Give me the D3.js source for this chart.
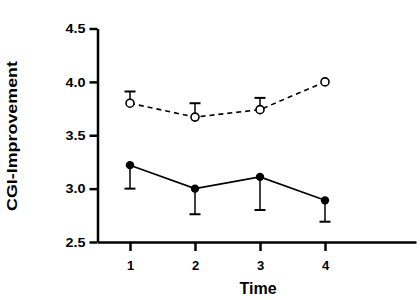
<!DOCTYPE html>
<html>
<head>
<meta charset="utf-8">
<script src="https://cdn.jsdelivr.net/npm/d3@7"></script>
<style>
  body { margin: 0; background: #fff; }
  svg { display: block; font-family: Arial, "Liberation Sans", sans-serif; }
</style>
</head>
<body>
<svg width="420" height="300"></svg>
<script>
var times = [1, 2, 3, 4]
var yTicks = [2.5, 3.0, 3.5, 4.0, 4.5]
// open circles, dashed line, error bar upward
var openMean = [3.80, 3.67, 3.74, 4.00]
var openErr = [0.11, 0.13, 0.11, 0]
// filled circles, solid line, error bar downward
var filledMean = [3.22, 3.00, 3.11, 2.89]
var filledErr = [0.22, 0.24, 0.31, 0.20]

var svg = d3.select('svg')
var x = d3.scaleLinear().domain([0.5, 5.4]).range([97.5, 416])
var y = d3.scaleLinear().domain([2.5, 4.5]).range([242, 28.5])

var openData = times.map(function(t, i) { return {t: t, m: openMean[i], e: openErr[i]} })
var filledData = times.map(function(t, i) { return {t: t, m: filledMean[i], e: filledErr[i]} })

// axes
var yAxis = svg.append('g')
  .attr('transform', 'translate(' + x.range()[0] + ',0)')
  .call(d3.axisLeft(y).tickValues(yTicks).tickFormat(d3.format('.1f')).tickSize(8).tickSizeOuter(0))
var xAxis = svg.append('g')
  .attr('transform', 'translate(0,' + y.range()[0] + ')')
  .call(d3.axisBottom(x).tickValues(times).tickFormat(d3.format('d')).tickSize(9).tickSizeOuter(0))

;[yAxis, xAxis].forEach(function(ax) {
  ax.select('.domain').attr('stroke', '#000').attr('stroke-width', 2.5)
  ax.selectAll('.tick line').attr('stroke', '#000').attr('stroke-width', 2.5)
  ax.selectAll('.tick text')
    .attr('fill', '#000')
    .attr('font-size', 13)
    .attr('font-weight', 'bold')
    .attr('font-family', 'Arial, "Liberation Sans", sans-serif')
})
yAxis.selectAll('.tick text').attr('x', -12).attr('textLength', 20).attr('lengthAdjust', 'spacingAndGlyphs')
xAxis.selectAll('.tick text').attr('y', 19)

svg.append('text')
  .attr('transform', 'translate(17,136) rotate(-90)')
  .attr('text-anchor', 'middle')
  .attr('font-size', 15.5)
  .attr('font-weight', 'bold')
  .attr('textLength', 150)
  .attr('lengthAdjust', 'spacingAndGlyphs')
  .text('CGI-Improvement')

svg.append('text')
  .attr('x', 258)
  .attr('y', 294)
  .attr('text-anchor', 'middle')
  .attr('font-size', 16)
  .attr('font-weight', 'bold')
  .text('Time')

var line = d3.line()
  .x(function(d) { return x(d.t) })
  .y(function(d) { return y(d.m) })

function errorBars(data, dir) {
  var g = svg.append('g').attr('stroke', '#000').attr('stroke-width', 1.5)
  data.filter(function(d) { return d.e > 0 }).forEach(function(d) {
    var end = y(d.m + dir * d.e)
    g.append('line')
      .attr('x1', x(d.t)).attr('x2', x(d.t))
      .attr('y1', y(d.m)).attr('y2', end)
    g.append('line')
      .attr('x1', x(d.t) - 5.5).attr('x2', x(d.t) + 5.5)
      .attr('y1', end).attr('y2', end)
      .attr('stroke-width', 2)
  })
}

errorBars(openData, 1)
errorBars(filledData, -1)

svg.append('path')
  .datum(openData)
  .attr('d', line)
  .attr('fill', 'none')
  .attr('stroke', '#000')
  .attr('stroke-width', 1.6)
  .attr('stroke-dasharray', '5,4')

svg.append('path')
  .datum(filledData)
  .attr('d', line)
  .attr('fill', 'none')
  .attr('stroke', '#000')
  .attr('stroke-width', 1.6)

svg.append('g').selectAll('circle')
  .data(openData)
  .enter().append('circle')
  .attr('cx', function(d) { return x(d.t) })
  .attr('cy', function(d) { return y(d.m) })
  .attr('r', 4)
  .attr('fill', '#fff')
  .attr('stroke', '#000')
  .attr('stroke-width', 1.6)

svg.append('g').selectAll('circle')
  .data(filledData)
  .enter().append('circle')
  .attr('cx', function(d) { return x(d.t) })
  .attr('cy', function(d) { return y(d.m) })
  .attr('r', 4.2)
  .attr('fill', '#000')
</script>
</body>
</html>
